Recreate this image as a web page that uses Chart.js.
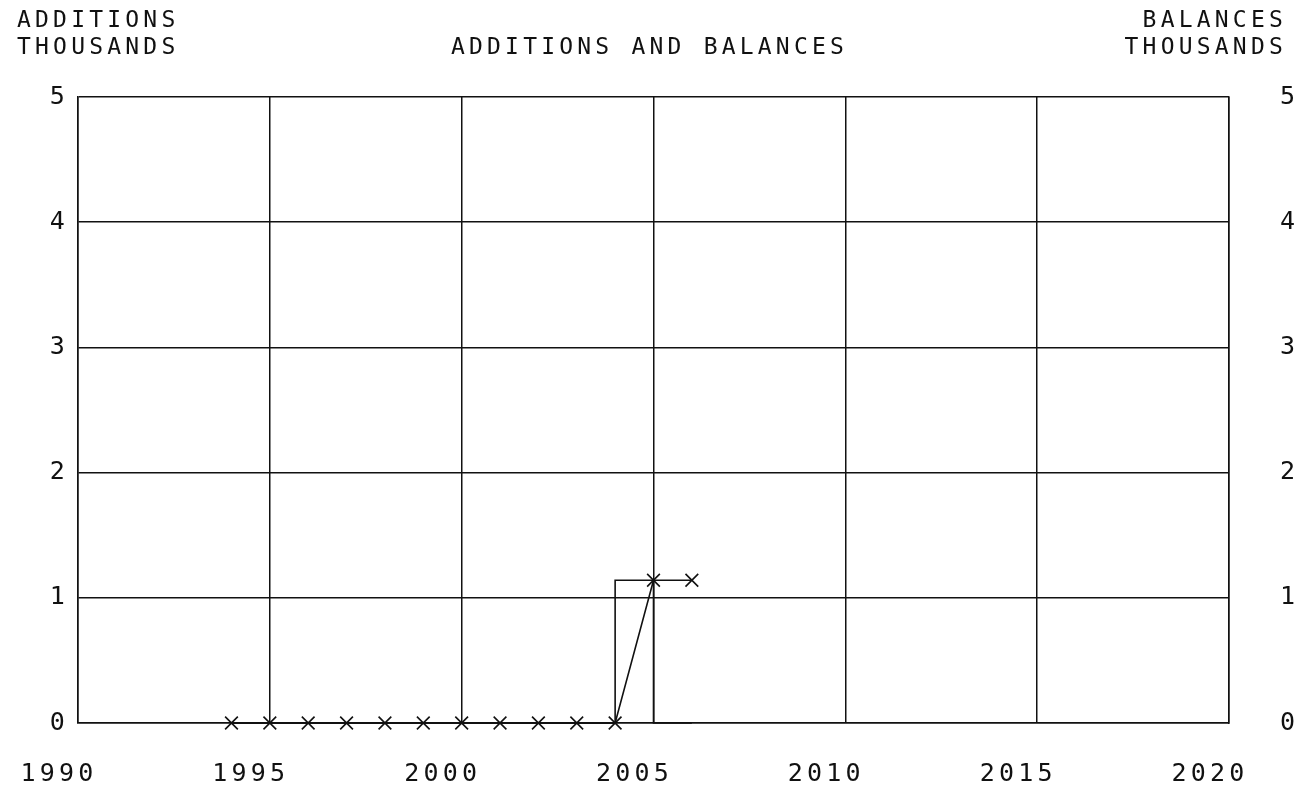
<!DOCTYPE html>
<html>
<head>
<meta charset="utf-8">
<title>Additions and Balances</title>
<script src="https://cdn.jsdelivr.net/npm/chart.js@4"></script>
<style>
  html, body { margin: 0; padding: 0; background: #fff; }
  #wrap { width: 1305px; height: 791px; }
</style>
</head>
<body>
<div id="wrap"><canvas id="chart"></canvas></div>
<script>
// values
const years = [1994, 1995, 1996, 1997, 1998, 1999, 2000, 2001, 2002, 2003, 2004, 2005, 2006];
const balances = [0, 0, 0, 0, 0, 0, 0, 0, 0, 0, 0, 1.14, 1.14];
const additions = [0, 0, 0, 0, 0, 0, 0, 0, 0, 0, 0, 1.14, 0];
const yearTicks = [1990, 1995, 2000, 2005, 2010, 2015, 2020];
const valueTicks = [0, 1, 2, 3, 4, 5];
const mainTitle = 'ADDITIONS AND BALANCES';
const leftHeading = ['ADDITIONS', 'THOUSANDS'];
const rightHeading = ['BALANCES', 'THOUSANDS'];

const FONT_FAMILY = '"DejaVu Sans Mono", "Liberation Mono", monospace';
const TEXT_SIZE = 23;
const TICK_SIZE = 25;
const SPACING = '4.2px';
const INK = '#111';

function toPoints(xs, ys) {
  return xs.map((x, i) => ({ x: x, y: ys[i] }));
}

// plotter-style wide lettering for every label on the canvas
const wideLetters = {
  id: 'wideLetters',
  beforeDraw(chart) {
    chart.ctx.letterSpacing = SPACING;
  }
};

const headerText = {
  id: 'headerText',
  afterDraw(chart) {
    const ctx = chart.ctx;
    ctx.save();
    ctx.letterSpacing = SPACING;
    ctx.font = TEXT_SIZE + 'px ' + FONT_FAMILY;
    ctx.fillStyle = INK;
    ctx.textBaseline = 'middle';
    ctx.textAlign = 'left';
    ctx.fillText(leftHeading[0], 17, 21);
    ctx.fillText(leftHeading[1], 17, 48);
    ctx.textAlign = 'right';
    ctx.fillText(rightHeading[0], 1287, 21);
    ctx.fillText(rightHeading[1], 1287, 48);
    ctx.textAlign = 'center';
    ctx.fillText(mainTitle, (chart.chartArea.left + chart.chartArea.right) / 2 - 4, 48);
    ctx.restore();
  }
};

const ctx = document.getElementById('chart').getContext('2d');
new Chart(ctx, {
  type: 'line',
  data: {
    datasets: [{
      label: 'Additions',
      data: toPoints(years, additions),
      borderColor: INK,
      borderWidth: 1.6,
      pointRadius: 0,
      stepped: 'after',
      fill: false,
      clip: false
    }, {
      label: 'Balances',
      data: toPoints(years, balances),
      borderColor: INK,
      borderWidth: 1.6,
      pointStyle: 'crossRot',
      pointRadius: 9,
      pointBorderColor: INK,
      pointBorderWidth: 1.6,
      fill: false,
      tension: 0,
      clip: false
    }]
  },
  options: {
    responsive: true,
    maintainAspectRatio: false,
    animation: false,
    layout: { padding: { top: 97, left: 0, right: 0, bottom: 0 } },
    plugins: {
      legend: { display: false },
      title: { display: false },
      tooltip: { enabled: false }
    },
    scales: {
      x: {
        type: 'linear',
        min: yearTicks[0],
        max: yearTicks[yearTicks.length - 1],
        afterBuildTicks: (scale) => { scale.ticks = yearTicks.map(v => ({ value: v })); },
        afterFit: (scale) => { scale.height = 68; },
        ticks: {
          color: INK,
          font: { family: FONT_FAMILY, size: TICK_SIZE },
          padding: 36,
          labelOffset: -19,
          maxRotation: 0,
          callback: (v) => String(v)
        },
        grid: { color: INK, lineWidth: 1.5, drawTicks: false },
        border: { display: true, color: INK, width: 1.5 }
      },
      y: {
        position: 'left',
        min: 0,
        max: 5,
        afterBuildTicks: (scale) => { scale.ticks = valueTicks.map(v => ({ value: v })); },
        afterFit: (scale) => { scale.width = 78; },
        ticks: {
          color: INK,
          font: { family: FONT_FAMILY, size: TICK_SIZE },
          padding: 9
        },
        grid: { color: INK, lineWidth: 1.5, drawTicks: false },
        border: { display: true, color: INK, width: 1.5 }
      },
      y2: {
        position: 'right',
        min: 0,
        max: 5,
        afterBuildTicks: (scale) => { scale.ticks = valueTicks.map(v => ({ value: v })); },
        afterFit: (scale) => { scale.width = 76; },
        ticks: {
          color: INK,
          font: { family: FONT_FAMILY, size: TICK_SIZE },
          padding: 51
        },
        grid: { display: false, drawTicks: false },
        border: { display: true, color: INK, width: 1.5 }
      }
    }
  },
  plugins: [wideLetters, headerText]
});
</script>
</body>
</html>
